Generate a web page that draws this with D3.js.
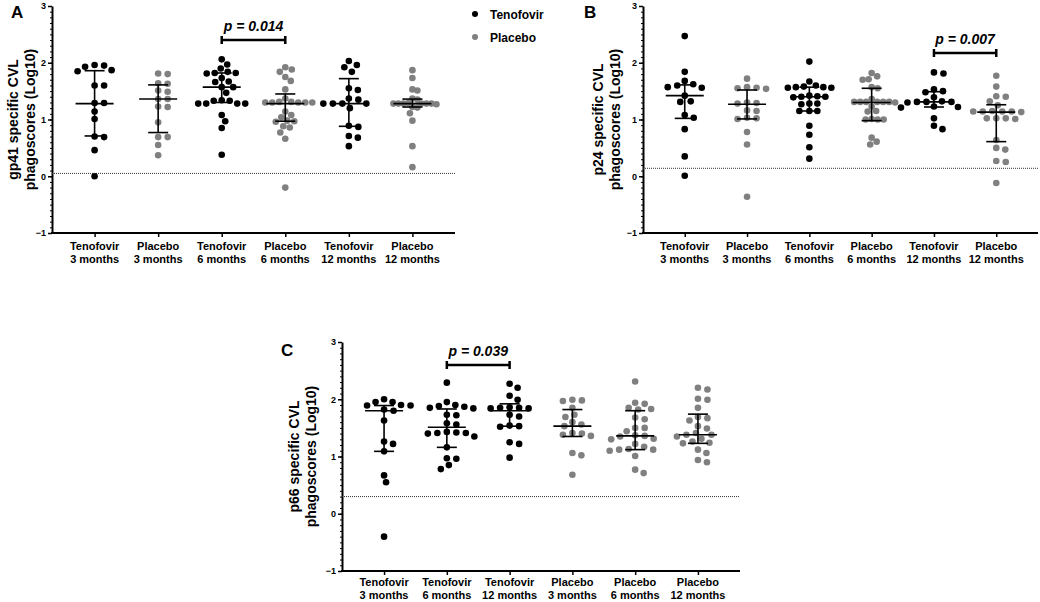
<!DOCTYPE html>
<html>
<head>
<meta charset="utf-8">
<script src="https://cdn.jsdelivr.net/npm/d3@7"></script>
<style>
  body { margin: 0; background: #fff; }
  svg { font-family: "Liberation Sans", Arial, sans-serif; font-weight: bold; }
</style>
</head>
<body>
<svg width="1040" height="602"></svg>
<script>
// group names (x axis)
const catsAB = ["Tenofovir|3 months", "Placebo|3 months", "Tenofovir|6 months", "Placebo|6 months", "Tenofovir|12 months", "Placebo|12 months"];
const catsC = ["Tenofovir|3 months", "Tenofovir|6 months", "Tenofovir|12 months", "Placebo|3 months", "Placebo|6 months", "Placebo|12 months"];
const yTicks = [-1, 0, 1, 2, 3];

// gp41 phagoscores
const gp41Values = [
  [1.96, 1.95, 1.93, 1.87, 1.85, 1.60, 1.60, 1.29, 1.29, 1.14, 1.01, 0.70, 0.69, 0.46, 0.00],
  [1.81, 1.80, 1.64, 1.63, 1.51, 1.49, 1.36, 1.36, 1.23, 1.22, 0.95, 0.69, 0.69, 0.55, 0.37],
  [2.06, 1.97, 1.90, 1.84, 1.82, 1.82, 1.81, 1.73, 1.67, 1.66, 1.57, 1.57, 1.47, 1.34, 1.33, 1.33, 1.28, 1.28, 1.28, 1.28, 1.08, 0.97, 0.85, 0.38],
  [1.92, 1.88, 1.84, 1.75, 1.68, 1.53, 1.37, 1.31, 1.31, 1.30, 1.30, 1.30, 1.30, 1.30, 1.14, 1.08, 1.04, 0.98, 0.97, 0.96, 0.88, 0.86, 0.77, 0.66, -0.20],
  [2.03, 1.96, 1.92, 1.84, 1.55, 1.52, 1.37, 1.35, 1.28, 1.28, 1.28, 1.28, 1.20, 0.89, 0.87, 0.71, 0.68, 0.53],
  [1.87, 1.73, 1.53, 1.51, 1.37, 1.35, 1.29, 1.28, 1.28, 1.28, 1.28, 1.28, 1.28, 1.27, 1.22, 1.21, 1.11, 0.98, 0.53, 0.16]
];
const gp41Median = [1.28, 1.36, 1.57, 1.28, 1.28, 1.28];
const gp41Q1 = [0.71, 0.77, 1.30, 0.97, 0.88, 1.22];
const gp41Q3 = [1.86, 1.61, 1.82, 1.45, 1.72, 1.36];

// p24 phagoscores
const p24Values = [
  [2.47, 1.84, 1.68, 1.62, 1.60, 1.57, 1.56, 1.42, 1.32, 1.31, 1.08, 1.03, 0.83, 0.35, 0.01],
  [1.72, 1.57, 1.56, 1.55, 1.54, 1.30, 1.29, 1.28, 1.16, 1.15, 1.03, 1.02, 1.01, 0.78, 0.56, -0.36],
  [2.02, 1.67, 1.60, 1.58, 1.57, 1.57, 1.56, 1.56, 1.42, 1.41, 1.40, 1.40, 1.39, 1.28, 1.28, 1.27, 1.15, 1.15, 1.15, 0.89, 0.73, 0.51, 0.31],
  [1.82, 1.76, 1.71, 1.70, 1.57, 1.55, 1.36, 1.31, 1.31, 1.31, 1.31, 1.31, 1.31, 1.30, 1.23, 1.15, 1.14, 1.01, 1.00, 1.00, 1.00, 0.68, 0.61, 0.56],
  [1.83, 1.81, 1.53, 1.50, 1.48, 1.39, 1.32, 1.31, 1.31, 1.31, 1.30, 1.23, 1.22, 1.21, 1.02, 0.89, 0.83],
  [1.77, 1.58, 1.41, 1.40, 1.32, 1.25, 1.15, 1.14, 1.14, 1.14, 1.14, 1.13, 1.02, 1.02, 1.02, 1.01, 0.64, 0.50, 0.47, 0.27, 0.25, -0.12]
];
const p24Median = [1.42, 1.27, 1.40, 1.30, 1.31, 1.13];
const p24Q1 = [1.02, 1.01, 1.15, 0.98, 1.22, 0.61];
const p24Q3 = [1.61, 1.52, 1.57, 1.55, 1.49, 1.26];

// p66 phagoscores
const p66Values = [
  [2.00, 1.95, 1.95, 1.90, 1.89, 1.89, 1.82, 1.80, 1.63, 1.26, 1.22, 1.09, 0.67, 0.55, -0.40],
  [2.29, 1.95, 1.90, 1.88, 1.87, 1.85, 1.84, 1.73, 1.72, 1.58, 1.56, 1.43, 1.42, 1.41, 1.41, 1.40, 1.35, 1.16, 0.97, 0.96, 0.85, 0.78],
  [2.27, 2.20, 2.06, 1.99, 1.86, 1.85, 1.85, 1.84, 1.84, 1.73, 1.70, 1.54, 1.53, 1.52, 1.25, 1.22, 0.98],
  [1.99, 1.98, 1.97, 1.85, 1.73, 1.69, 1.60, 1.56, 1.53, 1.41, 1.40, 1.38, 1.36, 1.06, 1.02, 0.68],
  [2.31, 1.94, 1.92, 1.85, 1.83, 1.82, 1.68, 1.65, 1.50, 1.50, 1.44, 1.37, 1.36, 1.35, 1.31, 1.30, 1.22, 1.17, 1.13, 1.12, 1.12, 1.10, 1.01, 0.77, 0.71],
  [2.20, 2.17, 2.01, 1.99, 1.85, 1.69, 1.67, 1.63, 1.53, 1.49, 1.41, 1.38, 1.38, 1.35, 1.31, 1.26, 1.24, 1.23, 1.12, 1.06, 0.94, 0.90]
];
const p66Median = [1.80, 1.51, 1.80, 1.53, 1.36, 1.38];
const p66Q1 = [1.09, 1.16, 1.53, 1.35, 1.12, 1.23];
const p66Q3 = [1.89, 1.83, 1.92, 1.82, 1.80, 1.74];

const svg = d3.select("svg");
const black = "#000";
const grey = "#808080";

// spread points sideways so they do not sit on each other
function swarm(ys) {
  const sorted = ys.slice().sort((a, b) => a - b);
  let maxRow = 1;
  sorted.forEach(v => {
    const n = sorted.filter(w => Math.abs(w - v) < 4).length;
    if (n > maxRow) maxRow = n;
  });
  const dx = Math.min(9.5, 46 / Math.max(1, maxRow - 1));
  const dy = 7;
  const placed = [];
  sorted.forEach(py => {
    let off = 0;
    for (let k = 0; k < 400; k++) {
      const cand = k === 0 ? 0 : (k % 2 ? 1 : -1) * Math.ceil(k / 2) * 0.5;
      const ok = placed.every(p => ((p[0] - cand) / dx) ** 2 + ((p[1] - py) / dy) ** 2 >= 1);
      if (ok) { off = cand; break; }
    }
    placed.push([off, py]);
  });
  return placed;
}

function drawPanel(cfg) {
  const x = d3.scalePoint().domain(cfg.cats).range([cfg.left, cfg.right]).padding(0.67);
  const y = d3.scaleLinear().domain([-1, 3]).range([cfg.bottom, cfg.top]);
  const g = svg.append("g");

  // panel letter
  g.append("text").attr("x", cfg.letterX).attr("y", cfg.letterY)
    .attr("font-size", 17).text(cfg.letter);

  // y axis title, two lines
  cfg.title.forEach((t, i) => {
    g.append("text")
      .attr("transform", `translate(${cfg.titleX + i * 17},${(cfg.top + cfg.bottom) / 2})rotate(-90)`)
      .attr("text-anchor", "middle").attr("font-size", 14).text(t);
  });

  // y axis with minor ticks
  g.append("g").attr("transform", `translate(${cfg.left},0)`)
    .call(d3.axisLeft(y).tickValues(d3.range(-1, 3.001, 0.1)).tickSize(2).tickFormat(""))
    .call(a => a.select(".domain").remove())
    .selectAll("line").attr("stroke-width", 1);
  const ya = g.append("g").attr("transform", `translate(${cfg.left},0)`)
    .call(d3.axisLeft(y).tickValues(yTicks).tickSize(4).tickSizeOuter(0).tickPadding(2).tickFormat(d3.format("d")));
  ya.select(".domain").attr("stroke-width", 2);
  ya.selectAll("line").attr("stroke-width", 1.5);
  ya.selectAll("text").attr("font-size", 9).attr("font-weight", "bold")
    .attr("font-family", "Liberation Sans, Arial, sans-serif");

  // x axis
  const xa = g.append("g").attr("transform", `translate(0,${cfg.bottom})`)
    .call(d3.axisBottom(x).tickSize(4).tickSizeOuter(0).tickFormat(""));
  xa.select(".domain").attr("stroke-width", 2).attr("d", `M${cfg.left - 1},0H${cfg.right}`);
  xa.selectAll("line").attr("stroke-width", 1.5);
  cfg.cats.forEach(c => {
    const parts = c.split("|");
    const t = g.append("text").attr("text-anchor", "middle").attr("font-size", 11);
    t.append("tspan").attr("x", x(c)).attr("y", cfg.bottom + cfg.labelGap).text(parts[0]);
    t.append("tspan").attr("x", x(c)).attr("y", cfg.bottom + cfg.labelGap + 13).text(parts[1]);
  });

  // dotted limit line
  g.append("line")
    .attr("x1", cfg.left).attr("x2", cfg.right)
    .attr("y1", y(cfg.limit)).attr("y2", y(cfg.limit))
    .attr("stroke", "#333").attr("stroke-width", 1).attr("stroke-dasharray", "1,1");

  cfg.values.forEach((vals, i) => {
    const c = cfg.cats[i];
    const cx = x(c);
    const col = c.startsWith("Tenofovir") ? black : grey;
    const placed = swarm(vals.map(v => y(v)));
    g.selectAll(null).data(placed).enter().append("circle")
      .attr("cx", d => cx + d[0]).attr("cy", d => d[1]).attr("r", 3.3)
      .attr("fill", col);

    // median and interquartile range
    const m = y(cfg.median[i]), lo = y(cfg.q1[i]), hi = y(cfg.q3[i]);
    g.append("line").attr("x1", cx).attr("x2", cx).attr("y1", hi).attr("y2", lo)
      .attr("stroke", black).attr("stroke-width", 1.6);
    g.append("line").attr("x1", cx - 19).attr("x2", cx + 19).attr("y1", m).attr("y2", m)
      .attr("stroke", black).attr("stroke-width", 1.6);
    [lo, hi].forEach(yy => {
      g.append("line").attr("x1", cx - 10).attr("x2", cx + 10).attr("y1", yy).attr("y2", yy)
        .attr("stroke", black).attr("stroke-width", 1.6);
    });
  });

  // significance bracket
  const b = cfg.bracket;
  const bx1 = x(cfg.cats[b.from]), bx2 = x(cfg.cats[b.to]), by = y(b.y);
  g.append("path").attr("d", `M${bx1},${by - 4}V${by + 4}M${bx1},${by}H${bx2}M${bx2},${by - 4}V${by + 4}`)
    .attr("stroke", black).attr("stroke-width", 2.5).attr("fill", "none");
  g.append("text").attr("x", (bx1 + bx2) / 2).attr("y", by - 9)
    .attr("text-anchor", "middle").attr("font-size", 14).attr("font-style", "italic")
    .text(b.label);
}

drawPanel({
  cats: catsAB, values: gp41Values, median: gp41Median, q1: gp41Q1, q3: gp41Q3,
  left: 52, right: 455, top: 6, bottom: 233, limit: 0.05, labelGap: 17,
  letter: "A", letterX: 11, letterY: 18, titleX: 18,
  title: ["gp41 specific CVL", "phagoscores (Log10)"],
  bracket: { from: 2, to: 3, y: 2.40, label: "p = 0.014" }
});

drawPanel({
  cats: catsAB, values: p24Values, median: p24Median, q1: p24Q1, q3: p24Q3,
  left: 643, right: 1038, top: 6, bottom: 233, limit: 0.14, labelGap: 17,
  letter: "B", letterX: 584, letterY: 18, titleX: 603,
  title: ["p24 specific CVL", "phagoscores (Log10)"],
  bracket: { from: 4, to: 5, y: 2.17, label: "p = 0.007" }
});

drawPanel({
  cats: catsC, values: p66Values, median: p66Median, q1: p66Q1, q3: p66Q3,
  left: 342, right: 740, top: 342, bottom: 571, limit: 0.30, labelGap: 15,
  letter: "C", letterX: 281, letterY: 356, titleX: 299,
  title: ["p66 specific CVL", "phagoscores (Log10)"],
  bracket: { from: 1, to: 2, y: 2.60, label: "p = 0.039" }
});

// legend
[["Tenofovir", black, 14], ["Placebo", grey, 37]].forEach(l => {
  svg.append("circle").attr("cx", 475).attr("cy", l[2]).attr("r", 3).attr("fill", l[1]);
  svg.append("text").attr("x", 490).attr("y", l[2] + 4.5).attr("font-size", 12).text(l[0]);
});
</script>
</body>
</html>
